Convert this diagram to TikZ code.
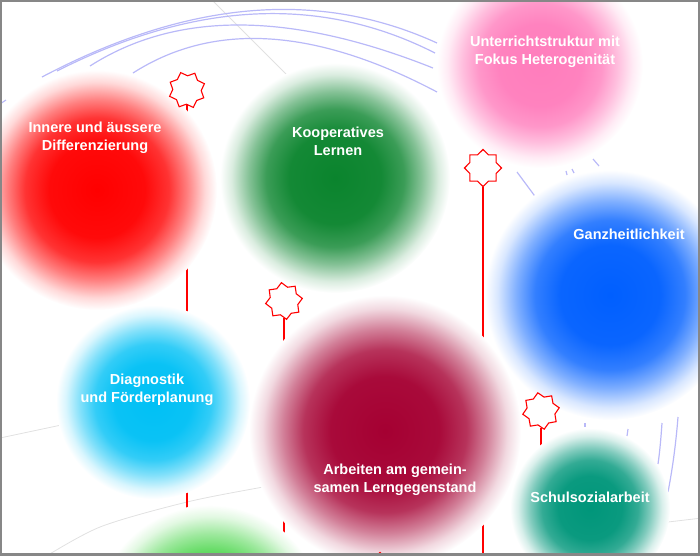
\documentclass[tikz,border=0pt]{standalone}
\usepackage{fontspec}
\setmainfont{Liberation Sans}
\usetikzlibrary{shapes.geometric}
\definecolor{cRed}{RGB}{255,0,0}
\definecolor{cGreen}{RGB}{10,132,45}
\definecolor{cPink}{RGB}{255,125,188}
\definecolor{cBlue}{RGB}{0,95,255}
\definecolor{cCyan}{RGB}{0,192,245}
\definecolor{cCrimson}{RGB}{165,0,50}
\definecolor{cTeal}{RGB}{0,150,122}
\definecolor{cLime}{RGB}{60,210,60}
\definecolor{arcblue}{RGB}{185,185,248}
\definecolor{faintgray}{RGB}{225,225,225}
\definecolor{frameGray}{RGB}{135,135,135}
\newcommand\mkblob[2]{\pgfdeclareradialshading{blob#1}{\pgfpointorigin}{color(0bp)=(#2); color(10bp)=(#2!96!white); color(15bp)=(#2!80!white); color(18.75bp)=(#2!50!white); color(22.5bp)=(#2!15!white); color(25bp)=(white); color(50bp)=(white)}}
\mkblob{red}{cRed}
\mkblob{green}{cGreen}
\mkblob{pink}{cPink}
\mkblob{blue}{cBlue}
\mkblob{cyan}{cCyan}
\mkblob{crimson}{cCrimson}
\mkblob{teal}{cTeal}
\mkblob{lime}{cLime}
\pgfdeclarelayer{back}
\pgfdeclarelayer{mid}
\pgfsetlayers{back,mid,main}
\begin{document}
\begin{tikzpicture}[x=1pt, y=-1pt,
  starbox/.style={star, star points=8, star point ratio=1.3, minimum size=37pt, inner sep=0pt, draw=red, line width=1.1pt, fill=white},
  stem/.style={draw=red, line width=1.6pt},
  lbl/.style={text=white, font=\fontsize{14.5}{18}\selectfont\bfseries, align=center, inner sep=0pt},
  arcline/.style={draw=arcblue, line width=1.2pt},
  faintline/.style={draw=faintgray, line width=0.8pt}]
\useasboundingbox (0,0) rectangle (700,555);

% stars
\node[starbox, shape border rotate=20] (s1) at (187,90) {};
\node[starbox, shape border rotate=8] (s2) at (284,301) {};
\node[starbox] (s3) at (483,168) {};
\node[starbox, shape border rotate=10] (s4) at (541,411) {};
\node[starbox] (s5) at (380,571) {};
\coordinate (e1) at (187,560);
\coordinate (e2) at (284,560);
\coordinate (e3) at (483,560);
\coordinate (e4) at (541,560);

\begin{pgfonlayer}{back}
% faint gray lines
\draw[faintline] (210,-2) -- (292,80);
\draw[faintline] (0,438) -- (66,424);
\draw[faintline] plot[smooth] coordinates {(40,560) (100,527) (187,502) (263,487) (280,484)};
\draw[faintline] (668,522) -- (702,518);
% light blue arcs
\draw[arcline] (42,77) .. controls (188,0) and (319,-11) .. (437,43);
\draw[arcline] (57,71) .. controls (195,1) and (321,-5) .. (435,53);
\draw[arcline] (90,66) .. controls (176,11) and (290,11) .. (433,68);
\draw[arcline] (133,73) .. controls (214,21) and (316,28) .. (437,92);
\draw[arcline] (0,104) -- (6,100);
\draw[arcline] (517,172) -- (537,199);
\draw[arcline] (566,171) -- (567,175);
\draw[arcline] (572,169) -- (574,173);
\draw[arcline] (593,159) -- (599,166);
\draw[arcline] (585,423) -- (585,427);
\draw[arcline] (628,429) -- (627,436);
\draw[arcline] (662,423) .. controls (661,437) and (660,450) .. (658,464);
\draw[arcline] (678,417) .. controls (676,442) and (673,466) .. (668,492);
% stems
\draw[stem] (s1.south) -- (e1);
\draw[stem] (s2.south) -- (e2);
\draw[stem] (s3.south) -- (e3);
\draw[stem] (s4.south) -- (e4);
\end{pgfonlayer}

\begin{pgfonlayer}{mid}
\shade[shading=blobred] (97,190) circle (120pt);
\shade[shading=blobgreen] (335,178) circle (115pt);
\shade[shading=blobpink] (540,65) circle (103pt);
\shade[shading=blobblue] (610,295) circle (125pt);
\shade[shading=blobcyan] (153,402) circle (97pt);
\shade[shading=blobcrimson] (385,431) circle (136pt);
\shade[shading=blobteal] (590,508) circle (80pt);
\shade[shading=bloblime] (210,620) circle (115pt);
\end{pgfonlayer}

% labels
\node[lbl] (t1) at (95,138) {Innere und äussere\\Differenzierung};
\node[lbl] (t2) at (338,141) {Kooperatives\\Lernen};
\node[lbl] (t3) at (545,52) {Unterrichtstruktur mit\\Fokus Heterogenität};
\node[lbl] (t4) at (629,234) {Ganzheitlichkeit};
\node[lbl] (t5) at (147,390) {Diagnostik\\und Förderplanung};
\node[lbl] (t6) at (395,480) {Arbeiten am gemein-\\samen Lerngegenstand};
\node[lbl] (t7) at (590,497) {Schulsozialarbeit};

% frame
\draw[frameGray, line width=3.5pt] (0,0) rectangle (700,555);
\end{tikzpicture}
\end{document}
